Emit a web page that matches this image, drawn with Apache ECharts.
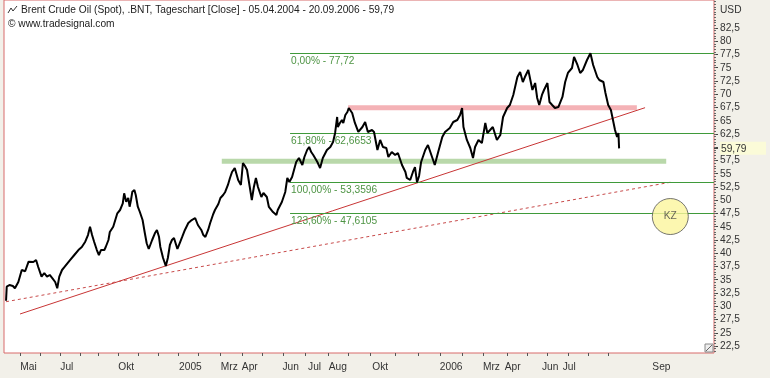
<!DOCTYPE html>
<html>
<head>
<meta charset="utf-8">
<script src="https://cdn.jsdelivr.net/npm/echarts@6/dist/echarts.min.js"></script>
<style>
  html, body { margin: 0; padding: 0; background: #f2f0e9; }
  #chart { width: 770px; height: 378px; }
</style>
</head>
<body>
<div id="chart"></div>
<script>
// x = Tage seit 05.04.2004 (lineare Zeitachse des Charts)
var dayIdx = [0,1,5,10,13,18,23,28,33,35,40,44,47,52,56,60,64,68,72,75,78,82,86,94,100,106,111,116,120,123,
  126,129,133,136,139,144,146,150,152,157,160,163,167,171,173,176,179,181,183,185,188,190,193,196,200,203,206,209,211,214,
  218,221,224,226,230,234,237,240,243,246,251,255,258,262,267,272,277,281,286,289,292,296,299,303,306,311,314,318,321,325,
  328,331,335,340,344,347,350,353,357,360,363,366,369,374,377,382,385,391,396,398,404,409,412,415,419,425,429,434,437,441,
  444,447,450,456,460,464,470,475,479,482,485,486,489,492,494,497,500,502,507,511,516,522,526,530,536,539,544,548,552,557,
  560,565,570,574,580,585,587,592,596,599,602,605,608,614,618,624,628,633,639,643,650,655,661,665,668,670,675,680,684,687,
  692,697,702,705,709,713,719,724,728,734,738,743,749,753,757,760,765,771,775,778,781,785,788,793,796,800,804,809,815,819,
  823,829,832,837,841,845,851,856,860,866,869,875,878,882,886,889,892,895,897,898];
var closes = [31.05,33.69,34.01,33.82,33.39,34.58,36.84,36.6,38.41,38.73,38.35,38.73,37.46,35.58,36.27,35.58,35.90,35.27,34.58,33.39,
  35.58,36.84,37.46,38.73,39.67,40.61,41.18,42.18,43.44,45.01,
  43.44,42.18,40.61,39.67,40.61,40.61,41.18,42.50,44.01,45.01,46.27,47.54,48.16,49.42,51.31,49.73,50.42,48.78,50.05,51.61,
  51.93,50.99,48.78,47.78,46.27,44.01,41.88,40.80,40.61,42.50,
  43.76,44.39,43.12,41.18,39.10,37.59,39.10,41.56,42.50,42.88,40.80,42.12,43.07,44.39,45.71,46.27,46.65,45.33,44.39,43.44,
  43.07,44.39,45.71,47.22,48.16,49.29,50.42,50.99,51.56,52.88,
  54.20,55.33,56.09,53.82,52.88,57.03,56.46,55.71,52.50,50.05,52.50,54.20,52.50,50.61,51.37,50.61,48.73,47.78,47.22,48.16,
  49.67,51.56,54.20,53.44,54.39,57.22,57.97,56.65,58.16,59.48,
  60.05,59.10,58.54,57.22,56.09,57.97,59.48,60.05,60.99,62.69,65.71,63.82,64.58,65.14,64.58,66.09,66.65,67.41,66.46,64.58,
  62.88,63.82,64.76,62.88,63.25,62.88,59.48,61.37,60.05,59.86,
  58.16,59.10,58.54,58.92,56.65,55.33,54.20,53.82,55.33,56.27,53.36,54.58,57.22,59.48,60.42,58.16,56.65,59.10,61.93,62.88,
  63.63,64.76,65.14,66.09,67.41,63.82,61.37,59.86,57.97,60.05,
  61.37,60.80,64.58,62.69,63.25,63.82,61.37,62.31,65.71,67.41,67.97,69.86,73.25,74.20,72.31,73.25,74.58,70.80,72.12,69.29,
  67.97,69.86,70.80,72.12,68.54,67.97,67.41,67.59,69.48,72.31,
  74.01,74.95,77.03,75.52,74.01,74.58,76.46,77.72,75.52,73.25,72.69,72.31,70.24,67.97,67.03,65.14,63.25,61.93,62.69,59.79];

// Fibonacci-Level
var fibPct = ['0,00%', '61,80%', '100,00%', '123,60%'];
var fibLevels = [77.72, 62.6653, 53.3596, 47.6105];
var fibStart = 416;

// Trendlinien und Zonen [tag, kurs]
var trendSolid = [[20.5, 28.54], [936, 67.46]];
var trendDashed = [[0, 30.86], [973, 53.39]];
var supportZone = [[316, 57.35], [967, 57.35]];
var resistZone = [[501, 67.45], [924, 67.45]];
var kzMark = [[973, 46.93]];

// Achsen
var xTickDays = [21,50,79,108,135,164,193,223,252,281,314,346,375,406,438,472,501,533,570,604,636,668,699,734,763,793,823,853,882];
var xLabelDays = [33,89,176,270,327,357,417,452,486,548,652,711,742,797,825,960];
var xLabelText = ['Mai','Jul','Okt','2005','Mrz','Apr','Jun','Jul','Aug','Okt','2006','Mrz','Apr','Jun','Jul','Sep'];
var yTicks = [22.5,25,27.5,30,32.5,35,37.5,40,42.5,45,47.5,50,52.5,55,57.5,60,62.5,65,67.5,70,72.5,75,77.5,80,82.5];
var lastClose = 59.79;

var xMin = -3, xMax = 1037, yMin = 21.18, yMax = 87.78;

var minorTicks = [];
for (var t = 21.5; t <= 87.5; t += 0.5) minorTicks.push(t);

function komma(v) { return String(v).replace('.', ','); }

var chart = echarts.init(document.getElementById('chart'));
var font = 'Liberation Sans';
var fs = 10.2;

var option = {
  animation: false,
  backgroundColor: '#f2f0e9',
  textStyle: { fontFamily: font },
  grid: {
    left: 4, right: 56, top: 0, bottom: 25,
    outerBoundsMode: 'none',
    show: true, backgroundColor: '#ffffff',
    borderColor: '#d86a6a', borderWidth: 1
  },
  xAxis: {
    type: 'value', min: xMin, max: xMax,
    axisLine: { show: false, onZero: false },
    splitLine: { show: false },
    axisTick: { customValues: xTickDays, length: 3, lineStyle: { color: '#555' } },
    axisLabel: {
      customValues: xLabelDays, margin: 9, color: '#333', fontSize: fs, fontFamily: font,
      formatter: function (v) { return xLabelText[xLabelDays.indexOf(v)]; }
    }
  },
  yAxis: [{
    type: 'value', position: 'right', min: yMin, max: yMax,
    axisLine: { show: false, onZero: false },
    splitLine: { show: false },
    axisTick: { customValues: yTicks.concat([lastClose]), length: 4, lineStyle: { color: '#444' } },
    axisLabel: {
      customValues: yTicks.concat([lastClose]), margin: 6, color: '#333', fontSize: fs, fontFamily: font,
      formatter: function (v) {
        return v === lastClose ? '{cur|' + komma(v) + '}' : komma(v);
      },
      rich: {
        cur: { backgroundColor: '#fbfbd8', color: '#333', fontSize: fs, width: 44, padding: [2, 1, 1, 1] }
      }
    }
  }, {
    type: 'value', position: 'right', offset: 0, min: yMin, max: yMax,
    axisLine: { show: false, onZero: false }, splitLine: { show: false }, axisLabel: { show: false },
    axisTick: { customValues: minorTicks, length: 2, lineStyle: { color: '#666' } }
  }],
  graphic: [
    { type: 'polyline', shape: { points: [[8, 13], [11, 8], [13, 11], [17, 6]] }, style: { stroke: '#333', lineWidth: 1, fill: null } },
    { type: 'text', left: 21, top: 5, style: { text: 'Brent Crude Oil (Spot), .BNT, Tageschart [Close] - 05.04.2004 - 20.09.2006 - 59,79', font: fs + 'px ' + font, fill: '#222' } },
    { type: 'text', left: 8, top: 19, style: { text: '© www.tradesignal.com', font: fs + 'px ' + font, fill: '#222' } },
    { type: 'text', left: 720, top: 5, style: { text: 'USD', font: fs + 'px ' + font, fill: '#333' } },
    { type: 'rect', shape: { x: 705, y: 344, width: 8, height: 8 }, style: { fill: '#eee', stroke: '#888' } },
    { type: 'line', shape: { x1: 706, y1: 351, x2: 712, y2: 345 }, style: { stroke: '#666' } }
  ],
  series: [
    {
      type: 'line', data: supportZone, symbol: 'none', silent: true, z: 1,
      lineStyle: { color: '#b9d8aa', width: 5 }
    },
    {
      type: 'line', data: resistZone, symbol: 'none', silent: true, z: 1,
      lineStyle: { color: '#f4b2b6', width: 5 }
    },
    {
      type: 'line', data: [], silent: true, z: 2,
      markLine: {
        silent: true, symbol: ['none', 'none'],
        lineStyle: { color: '#3f9a3a', width: 1, type: 'solid', opacity: 1 },
        label: {
          show: true, position: 'insideStartBottom', distance: [1, 3],
          color: '#4e9444', fontSize: fs, fontFamily: font,
          formatter: function (p) { return p.name; }
        },
        data: fibLevels.map(function (lvl, i) {
          return [{ coord: [fibStart, lvl], name: fibPct[i] + ' - ' + komma(lvl) }, { coord: [xMax, lvl] }];
        })
      }
    },
    {
      type: 'line', data: trendSolid, symbol: 'none', silent: true, z: 3,
      lineStyle: { color: '#c83535', width: 1 }
    },
    {
      type: 'line', data: trendDashed, symbol: 'none', silent: true, z: 3,
      lineStyle: { color: '#c84a4a', width: 1, type: [3, 3] }
    },
    {
      name: 'Brent', type: 'line', symbol: 'none', z: 5,
      data: dayIdx.map(function (d, i) { return [d, closes[i]]; }),
      lineStyle: { color: '#000', width: 2 }
    },
    {
      type: 'scatter', data: kzMark, symbolSize: 36, z: 6, silent: true,
      itemStyle: { color: '#fbf59c', borderColor: '#555', borderWidth: 1 },
      label: { show: true, position: 'inside', formatter: 'KZ', color: '#444', fontSize: fs, fontFamily: font }
    }
  ]
};

chart.setOption(option);
</script>
</body>
</html>
